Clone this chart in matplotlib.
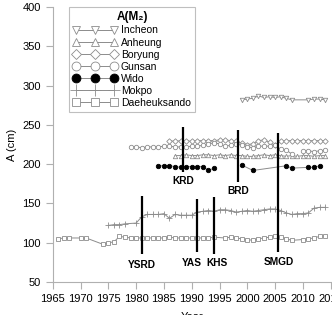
import numpy as np
import matplotlib.pyplot as plt

plt.rcParams['font.family'] = ['Liberation Sans', 'DejaVu Sans']

nan = np.nan

# Incheon
incheon_years = [1999, 2000, 2001, 2002, 2003, 2004, 2005, 2006, 2007, 2008, 2011, 2012, 2013, 2014]
incheon_vals = [282, 283, 284, 287, 285, 286, 285, 286, 284, 282, 282, 283, 283, 282]

# Anheung
anheung_years = list(range(1987, 2015))
anheung_vals = [211, 211, 212, 211, 211, 212, 212, 211, 212, 211, 212, 211, 211, 210, 210,
                211, 212, 211, 212, 211, 210, 211, 210, 211, 211, 210, 211, 211]

# Boryung
boryung_years = list(range(1986, 2015))
boryung_vals = [230, 229, 230, 230, 229, 230, 230, 230, 230, 231, 231, 230, 229, 227, 225,
                226, 230, 231, 228, 224, 229, 230, 230, 230, 230, 230, 230, 230, 230]

# Gunsan
gunsan_years = list(range(1979, 2015))
gunsan_vals = [222, 222, 221, 222, 222, 222, 223, 223, 222, 222, 222, 223, 223, 224, 226,
               227, 226, 223, 224, 226, 224, 222, 221, 223, 223, 223, 224, 219, 218, 213,
               nan, 217, 217, 216, 217, 218]

# Wido
wido_years = [1984, 1985, 1986, 1987, 1988, 1989, 1990, 1991, 1992, 1993, 1994, 1996,
              1999, 2001, 2007, 2008, 2011, 2012, 2013]
wido_vals = [198, 198, 198, 197, 196, 197, 197, 197, 197, 192, 195, nan,
             199, 192, 198, 195, 196, 196, 198]

# Mokpo
mokpo_years = [1975, 1976, 1977, 1978, 1980] + list(range(1981, 2015))
mokpo_vals = [122, 123, 123, 124, 125,
              133, 136, 136, 136, 137, 131, 136, 135, 135, 135, 139, 140, 141, 140, 142,
              142, 141, 139, 140, 141, 140, 141, 142, 143, 143, 141, 138, 136, 137, 137,
              138, 144, 145, 145]

# Daeheuksando
dhs_years = [1966, 1967, 1968, 1970, 1971, 1974, 1975, 1976] + list(range(1977, 1995)) + \
            [1996, 1997, 1998, 1999, 2000, 2001, 2002, 2003, 2004, 2005, 2006, 2007, 2008,
             2010, 2011, 2012, 2013, 2014]
dhs_vals = [105, 106, 106, 106, 106, 98, 100, 101,
            108, 107, 106, 106, 106, 106, 106, 106, 106, 107, 106, 106, 106, 106, 106, 106,
            106, 107,
            106, 107, 106, 105, 104, 103, 105, 106, 107, 108, 107, 105, 103,
            104, 105, 106, 108, 109]

# coastal structures: name, year, line bottom, line top, label x, label y
ev_names = ['YSRD', 'KRD', 'YAS', 'KHS', 'BRD', 'SMGD']
ev_years = [1981, 1988.5, 1991, 1994, 1998.4, 2005.6]
ev_low = [86, 190, 88, 85, 177, 88]
ev_high = [160, 247, 156, 158, 244, 240]
ev_label_x = [1981, 1988.5, 1990.0, 1994.6, 1998.4, 2005.6]
ev_label_y = [71, 178, 74, 74, 166, 76]

fig = plt.figure(figsize=(3.32, 3.15), dpi=100)
ax = fig.add_axes([0.159, 0.105, 0.837, 0.872])

grey = '#8c8c8c'
kw = dict(color=grey, lw=0.7, markersize=3.2, markeredgewidth=0.6)
ax.plot(incheon_years, incheon_vals, marker='v', mfc='white', mec=grey, label='Incheon', **kw)
ax.plot(anheung_years, anheung_vals, marker='^', mfc='white', mec=grey, label='Anheung', **kw)
ax.plot(boryung_years, boryung_vals, marker='D', mfc='white', mec=grey, label='Boryung',
        **dict(kw, markersize=2.8))
ax.plot(gunsan_years, gunsan_vals, marker='o', mfc='white', mec=grey, label='Gunsan', **kw)
ax.plot(wido_years, wido_vals, marker='o', mfc='black', mec='black', label='Wido', **kw)
ax.plot(mokpo_years, mokpo_vals, marker='+', mec=grey, label='Mokpo',
        **dict(kw, markersize=4.5))
ax.plot(dhs_years, dhs_vals, marker='s', mfc='white', mec=grey, label='Daeheuksando', **kw)

for yr, lo, hi in zip(ev_years, ev_low, ev_high):
    ax.vlines(yr, lo, hi, color='black', lw=1.6)
for n, lx, ly in zip(ev_names, ev_label_x, ev_label_y):
    ax.text(lx, ly, n, ha='center', va='center', fontsize=7.3, fontweight='bold')

ax.set_xlim(1965, 2015)
ax.set_ylim(50, 400)
ax.set_xticks(np.arange(1965, 2016, 5))
ax.set_yticks(np.arange(50, 401, 50))
ax.set_xlabel('Year', fontsize=8, labelpad=6)
ax.set_ylabel('A (cm)', fontsize=8)
for s in ['top', 'right']:
    ax.spines[s].set_visible(False)
for s in ['left', 'bottom']:
    ax.spines[s].set_color('#b0b0b0')
    ax.spines[s].set_linewidth(0.8)
ax.tick_params(labelsize=8, color='#b0b0b0', length=5, width=0.8)

leg = ax.legend(loc='upper left', bbox_to_anchor=(0.058, 1.0), numpoints=3, markerscale=2.0,
                fontsize=7.5, title='A(M₂)', handlelength=4.2, labelspacing=0.2,
                fancybox=False, borderaxespad=0, handletextpad=0.4, borderpad=0.4)
leg.get_title().set_fontweight('bold')
leg.get_title().set_fontsize(8.5)
leg.get_frame().set_edgecolor('#b0b0b0')
leg.get_frame().set_linewidth(0.8)

fig.savefig('out.png', dpi=100)
